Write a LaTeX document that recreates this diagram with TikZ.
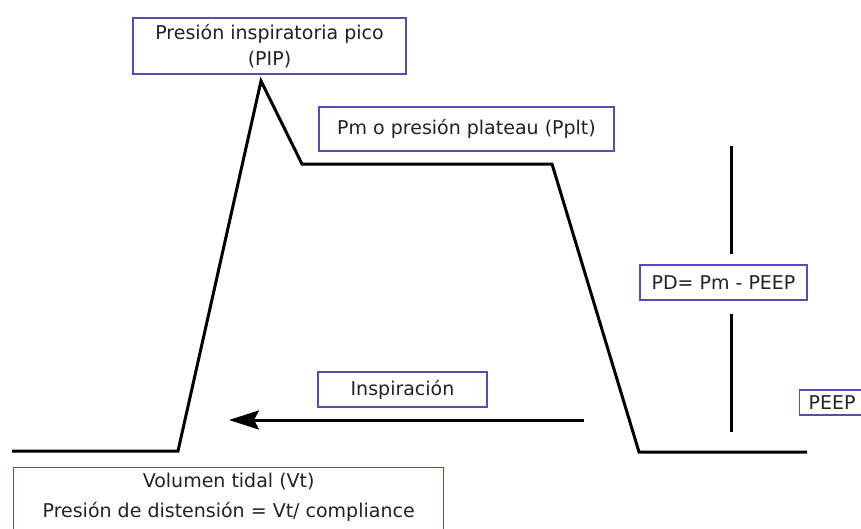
\documentclass[tikz,border=0pt]{standalone}
\usepackage{fontspec}
\setmainfont{DejaVu Sans}
\usetikzlibrary{arrows.meta}
\definecolor{boxc}{HTML}{5A4AB8}
\definecolor{txt}{HTML}{222222}
\begin{document}
\begin{tikzpicture}[x=1pt,y=-1pt,
  lbl/.style={draw=boxc, line width=1.3pt, fill=white, text=txt, font=\fontsize{19}{26}\selectfont, inner sep=0pt, align=center},
  plain/.style={text=txt, font=\fontsize{19}{30}\selectfont, inner sep=0pt, align=center},
  wave/.style={line width=3pt, line join=miter, black}]
\useasboundingbox (0,0) rectangle (861,528);
% waveform
\draw[wave] (12,451) -- (178,451) -- (261,81) -- (302,164) -- (552,164) -- (639,452) -- (807,452);
% labels
\node[lbl, minimum width=273, minimum height=56] (pip) at (269.5,46) {Presión inspiratoria pico\\(PIP)};
\node[lbl, minimum width=295, minimum height=44] (pm) at (466.5,129) {Pm o presión plateau (Pplt)};
\node[lbl, minimum width=167, minimum height=35] (pd) at (723.5,282.5) {PD= Pm - PEEP};
\node[lbl, minimum width=169, minimum height=35] (insp) at (402.5,389.5) {Inspiración};
\node[lbl, anchor=west, text width=62, align=left, inner xsep=9, minimum height=25] (peep) at (799,402.5) {PEEP};
\node[lbl, anchor=north west, minimum width=430, minimum height=90] (vt) at (13,467) {};
\node[plain, anchor=north] (vttxt) at ([yshift=-6pt]vt.north) {Volumen tidal (Vt)\\Presión de distensión = Vt/ compliance};
% vertical PD line
\coordinate (pdtop) at (731,146);
\coordinate (pdbot) at (731,432);
\draw[line width=3pt, shorten >=10pt] (pdtop) -- (pd.north -| pdtop);
\draw[line width=3pt, shorten <=13pt] (pd.south -| pdbot) -- (pdbot);
% arrow
\coordinate (arrS) at (584,420);
\coordinate (arrE) at (229,420);
\draw[line width=3pt, -{Stealth[length=30pt,width=19pt,inset=5pt]}] (arrS) -- (arrE);
\end{tikzpicture}
\end{document}
